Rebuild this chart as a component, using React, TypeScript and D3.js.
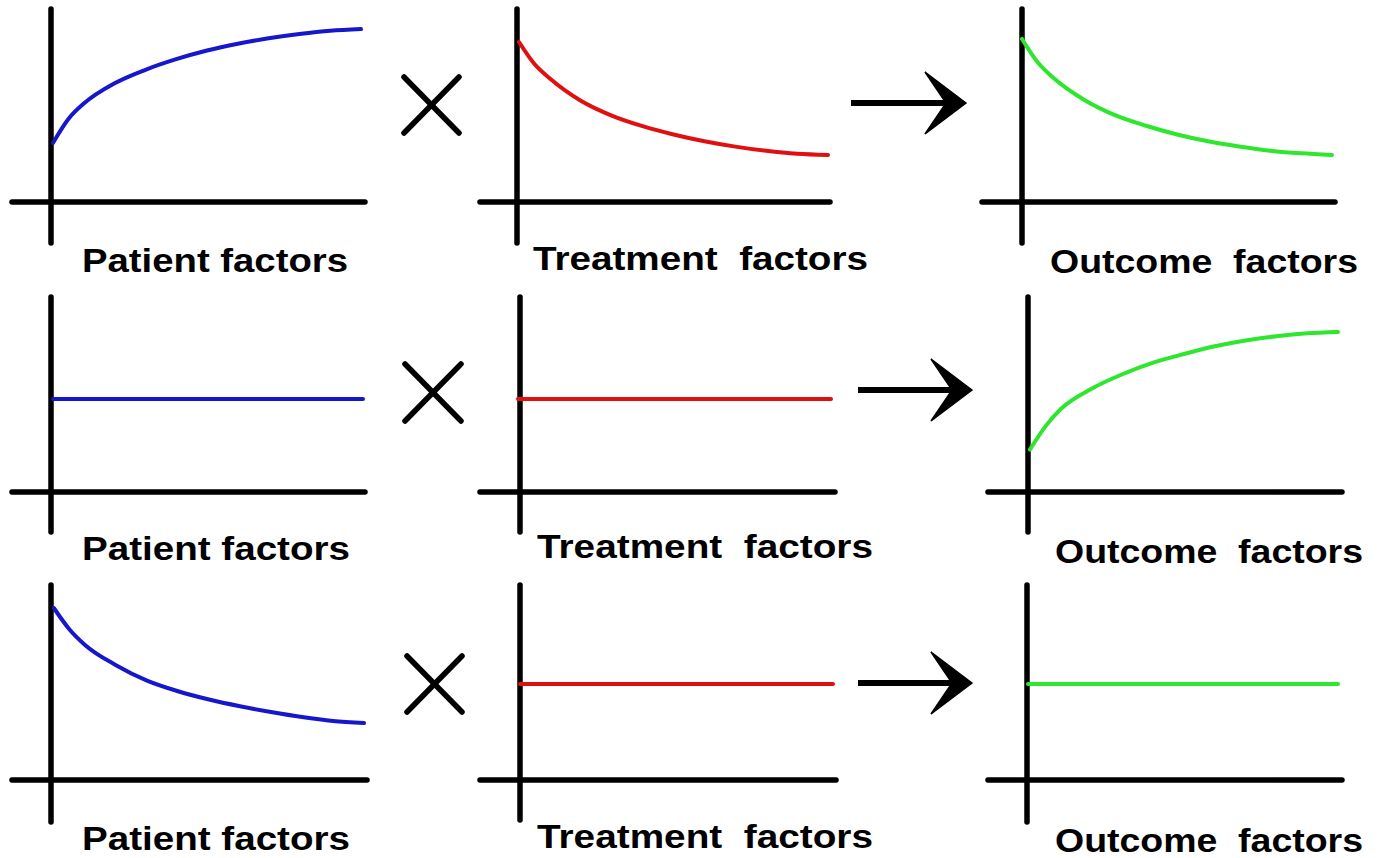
import React from "react";
import * as d3 from "d3";

// ---- data (arbitrary units 0..10) ----
const xGrid = [0, 0.5, 1, 2, 3, 4, 5, 6, 7, 8, 9, 10];
const xFlat = [0, 10];

const patientRising = [3.06, 4.3, 5.1, 6.15, 6.85, 7.4, 7.85, 8.2, 8.48, 8.7, 8.87, 8.96];
const treatmentFalling = [8.29, 7.15, 6.4, 5.25, 4.48, 3.93, 3.5, 3.15, 2.87, 2.65, 2.5, 2.44];
const outcomeFalling = [8.45, 7.25, 6.45, 5.3, 4.5, 3.95, 3.5, 3.15, 2.88, 2.66, 2.52, 2.44];

const patientFlat = [4.82, 4.82];
const treatmentFlatMid = [4.82, 4.82];
const outcomeRising = [2.2, 3.4, 4.3, 5.35, 6.1, 6.7, 7.15, 7.55, 7.85, 8.07, 8.22, 8.29];

const patientFalling = [8.9, 7.8, 7.0, 5.95, 5.15, 4.6, 4.17, 3.82, 3.52, 3.26, 3.06, 2.95];
const treatmentFlatLow = [4.97, 4.97];
const outcomeFlat = [4.97, 4.97];

const labels = ["Patient factors", "Treatment  factors", "Outcome  factors"];

// ---- styles ----
const BLUE = "#1616cc";
const RED = "#e01010";
const GREEN = "#2ee62e";
const colors = [BLUE, RED, GREEN];

// ---- layout ----
type Panel = {
  axisX: number; axisY: number; hStart: number; hEnd: number;
  vTop: number; vBottom: number; curveStart: number; curveEnd: number;
  labelX: number; labelEnd: number; labelY: number;
  col: number; xs: number[]; ys: number[];
};

const panels: Panel[] = [
  { axisX: 51, axisY: 202, hStart: 12, hEnd: 365, vTop: 9, vBottom: 243, curveStart: 53, curveEnd: 361, labelX: 82, labelEnd: 348, labelY: 272, col: 0, xs: xGrid, ys: patientRising },
  { axisX: 517, axisY: 202, hStart: 480, hEnd: 830, vTop: 9, vBottom: 243, curveStart: 519, curveEnd: 828, labelX: 533, labelEnd: 868, labelY: 270, col: 1, xs: xGrid, ys: treatmentFalling },
  { axisX: 1022, axisY: 202, hStart: 982, hEnd: 1335, vTop: 9, vBottom: 243, curveStart: 1022, curveEnd: 1332, labelX: 1050, labelEnd: 1358, labelY: 273, col: 2, xs: xGrid, ys: outcomeFalling },

  { axisX: 51, axisY: 492, hStart: 12, hEnd: 365, vTop: 297, vBottom: 532, curveStart: 53, curveEnd: 363, labelX: 82, labelEnd: 350, labelY: 560, col: 0, xs: xFlat, ys: patientFlat },
  { axisX: 520, axisY: 492, hStart: 480, hEnd: 835, vTop: 297, vBottom: 532, curveStart: 518, curveEnd: 831, labelX: 537, labelEnd: 873, labelY: 558, col: 1, xs: xFlat, ys: treatmentFlatMid },
  { axisX: 1028, axisY: 492, hStart: 988, hEnd: 1342, vTop: 297, vBottom: 532, curveStart: 1030, curveEnd: 1338, labelX: 1055, labelEnd: 1363, labelY: 563, col: 2, xs: xGrid, ys: outcomeRising },

  { axisX: 51, axisY: 780, hStart: 12, hEnd: 367, vTop: 585, vBottom: 822, curveStart: 54, curveEnd: 364, labelX: 82, labelEnd: 350, labelY: 850, col: 0, xs: xGrid, ys: patientFalling },
  { axisX: 520, axisY: 780, hStart: 480, hEnd: 836, vTop: 585, vBottom: 820, curveStart: 520, curveEnd: 833, labelX: 537, labelEnd: 873, labelY: 848, col: 1, xs: xFlat, ys: treatmentFlatLow },
  { axisX: 1027, axisY: 780, hStart: 988, hEnd: 1342, vTop: 585, vBottom: 822, curveStart: 1028, curveEnd: 1338, labelX: 1055, labelEnd: 1363, labelY: 852, col: 2, xs: xFlat, ys: outcomeFlat },
];

const crosses = [
  { x1: 404, y1: 77, x2: 459, y2: 133 },
  { x1: 405, y1: 364, x2: 461, y2: 421 },
  { x1: 407, y1: 656, x2: 462, y2: 712 },
];

const arrows = [
  { x0: 851, tip: 966, y: 103 },
  { x0: 858, tip: 972, y: 390 },
  { x0: 858, tip: 972, y: 683 },
];

function PanelView({ p }: { p: Panel }) {
  const x = d3.scaleLinear().domain([0, 10]).range([p.curveStart, p.curveEnd]);
  const y = d3.scaleLinear().domain([0, 10]).range([p.axisY, p.axisY - 193]);
  const pts: [number, number][] = p.xs.map((v, i) => [v, p.ys[i]]);
  const line = d3
    .line<[number, number]>()
    .x((d) => x(d[0]))
    .y((d) => y(d[1]))
    .curve(d3.curveMonotoneX);
  return (
    <g>
      <line x1={p.hStart} x2={p.hEnd} y1={p.axisY} y2={p.axisY} stroke="#000" strokeWidth={5.5} strokeLinecap="round" />
      <line x1={p.axisX} x2={p.axisX} y1={p.vTop} y2={p.vBottom} stroke="#000" strokeWidth={5.5} strokeLinecap="round" />
      <path d={line(pts) || ""} fill="none" stroke={colors[p.col]} strokeWidth={4} strokeLinecap="round" strokeLinejoin="round" />
      <text
        x={p.labelX}
        y={p.labelY}
        fontFamily="'Liberation Sans', Arial, sans-serif"
        fontWeight="bold"
        fontSize={34}
        fill="#000"
        textLength={p.labelEnd - p.labelX}
        lengthAdjust="spacingAndGlyphs"
        style={{ whiteSpace: "pre" }}
      >
        {labels[p.col]}
      </text>
    </g>
  );
}

export default function App() {
  return (
    <svg
      width={1378}
      height={858}
      viewBox="0 0 1378 858"
      style={{ position: "absolute", left: 0, top: 0, background: "#fff" }}
    >
      <rect x={0} y={0} width={1378} height={858} fill="#fff" />
      {panels.map((p, i) => (
        <PanelView key={i} p={p} />
      ))}
      {crosses.map((c, i) => (
        <g key={i} stroke="#000" strokeWidth={5.5} strokeLinecap="round">
          <line x1={c.x1} y1={c.y1} x2={c.x2} y2={c.y2} />
          <line x1={c.x2} y1={c.y1} x2={c.x1} y2={c.y2} />
        </g>
      ))}
      {arrows.map((a, i) => {
        const t = a.tip;
        const yy = a.y;
        const head = `M${t},${yy} L${t - 41},${yy - 31} L${t - 22},${yy - 3} L${t - 22},${yy + 3} L${t - 41},${yy + 31} Z`;
        return (
          <g key={i}>
            <line x1={a.x0} x2={t - 16} y1={yy} y2={yy} stroke="#000" strokeWidth={6} />
            <path d={head} fill="#000" stroke="#000" strokeWidth={1.5} strokeLinejoin="miter" />
          </g>
        );
      })}
    </svg>
  );
}
